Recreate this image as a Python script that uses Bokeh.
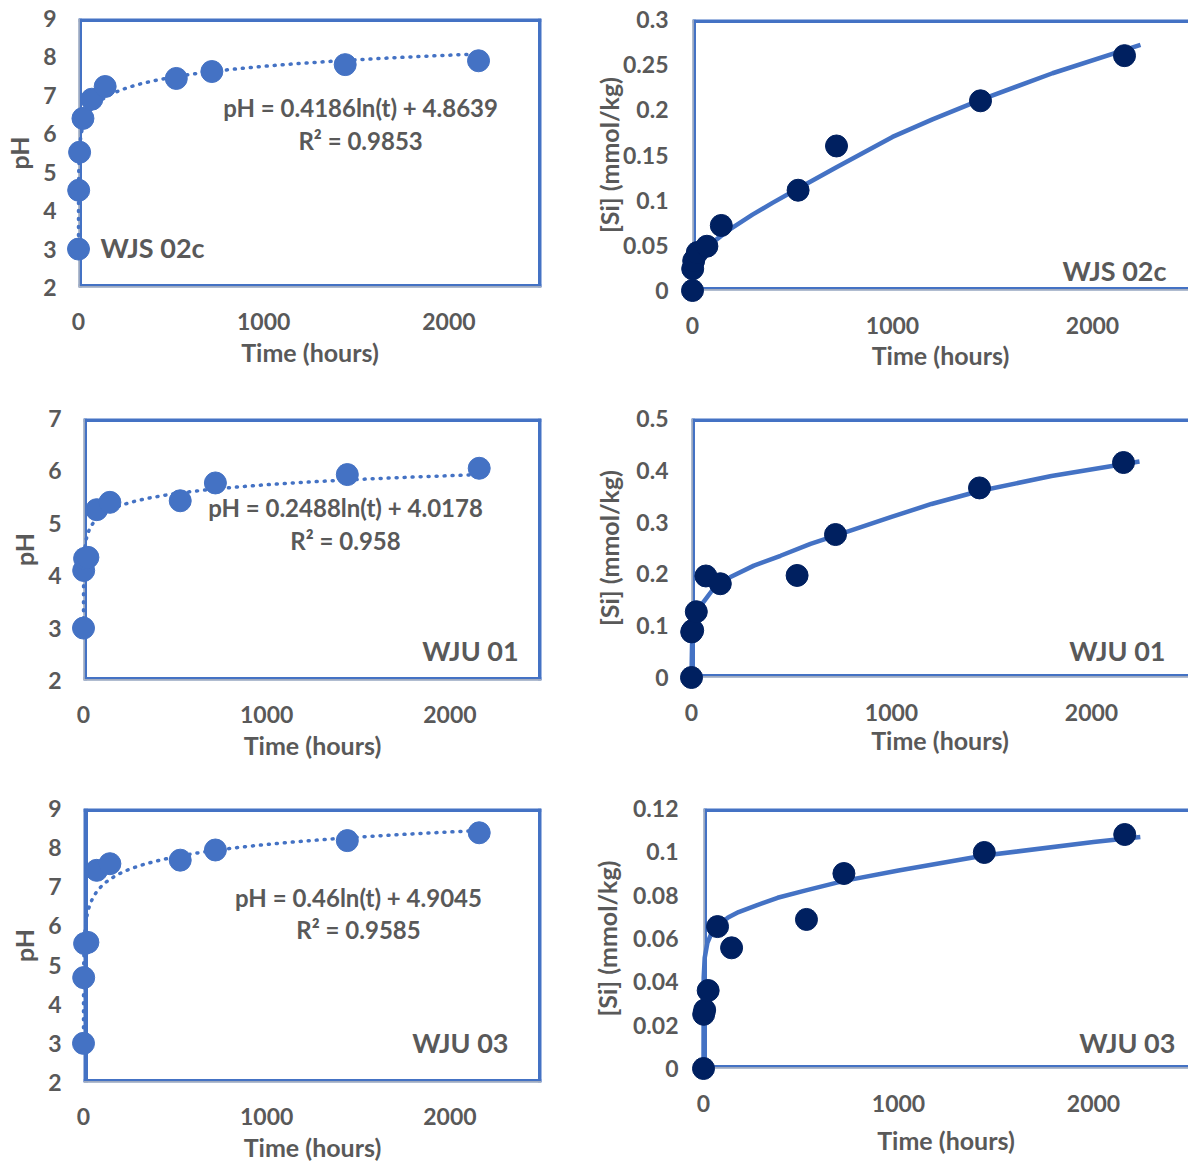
from bokeh.plotting import figure
from bokeh.layouts import column, row
from bokeh.models import Span, Label, FixedTicker, Range1d
from bokeh.embed import file_html
from bokeh.resources import INLINE
import numpy as np

# ---------------- data ----------------
hours = [0, 1, 6, 24, 72, 144, 528, 720, 1440, 2160]

ph_wjs02c = [3.0, 4.53, 5.52, 6.40, 6.90, 7.23, 7.44, 7.62, 7.80, 7.90]
ph_wju01 = [3.0, 4.10, 4.33, 4.35, 5.26, 5.40, 5.43, 5.77, 5.93, 6.05]
ph_wju03 = [3.0, 4.68, 5.55, 5.58, 7.42, 7.59, 7.68, 7.94, 8.18, 8.38]

si_wjs02c = [0, 0.024, 0.033, 0.042, 0.049, 0.072, 0.111, 0.160, 0.210, 0.260]
si_wju01 = [0, 0.088, 0.091, 0.127, 0.196, 0.181, 0.197, 0.276, 0.366, 0.415]
si_wju03 = [0, 0.025, 0.027, 0.036, 0.0655, 0.0557, 0.0688, 0.090, 0.0997, 0.108]

# solid fitted curves of the [Si] panels
si_curve_wjs02c_t = [0, 2, 10, 30, 60, 100, 175, 300, 400, 528, 720, 1000, 1200, 1440, 1800, 2240]
si_curve_wjs02c_v = [0, 0.010, 0.020, 0.031, 0.042, 0.053, 0.066, 0.084, 0.097, 0.113, 0.1365,
                     0.170, 0.1895, 0.211, 0.2405, 0.272]
si_curve_wju01_t = [0, 3, 20, 53, 103, 195, 312, 445, 595, 720, 1000, 1200, 1440, 1800, 2240]
si_curve_wju01_v = [0, 0.071, 0.116, 0.142, 0.168, 0.194, 0.216, 0.235, 0.258, 0.274, 0.310,
                    0.335, 0.360, 0.389, 0.417]
si_curve_wju03_t = [0, 1, 6, 20, 46, 70, 126, 180, 265, 380, 520, 720, 1000, 1440, 2000, 2240]
si_curve_wju03_v = [0, 0.042, 0.051, 0.058, 0.0635, 0.0655, 0.0697, 0.0722, 0.0751, 0.0788,
                    0.0821, 0.0866, 0.0914, 0.0983, 0.1045, 0.1068]

# logarithmic trendlines printed on the pH panels: pH = a ln(t) + b
trend_a = [0.4186, 0.2488, 0.46]
trend_b = [4.8639, 4.0178, 4.9045]
trend_t_range = [0.01, 2160]
eq_texts = ["pH = 0.4186ln(t) + 4.8639", "pH = 0.2488ln(t) + 4.0178", "pH = 0.46ln(t) + 4.9045"]
r2_texts = ["R\u00b2 = 0.9853", "R\u00b2 = 0.958", "R\u00b2 = 0.9585"]
sample_names = ["WJS 02c", "WJU 01", "WJU 03"]
x_title = "Time (hours)"

x_ticks = [0, 1000, 2000]
ph_ticks_a = [2, 3, 4, 5, 6, 7, 8, 9]
ph_ticks_b = [2, 3, 4, 5, 6, 7]
si_ticks_a = [0, 0.05, 0.1, 0.15, 0.2, 0.25, 0.3]
si_labels_a = ["0", "0.05", "0.1", "0.15", "0.2", "0.25", "0.3"]
si_ticks_b = [0, 0.1, 0.2, 0.3, 0.4, 0.5]
si_labels_b = ["0", "0.1", "0.2", "0.3", "0.4", "0.5"]
si_ticks_c = [0, 0.02, 0.04, 0.06, 0.08, 0.1, 0.12]
si_labels_c = ["0", "0.02", "0.04", "0.06", "0.08", "0.1", "0.12"]

# ---------------- styles ----------------
FONT = "Lato"
GRAY = "#595959"
BLUE = "#4472C4"
NAVY = "#002060"
AXGRAY = "#BFBFBF"
FRAME_W = 7


def make_fig(w, h, left, right, top, bottom, xr, yr, yticks, ylabels, ytitle,
             ystand, ytitle_stand, xstand, xtitle_stand):
    p = figure(width=w, height=h, x_range=Range1d(*xr), y_range=Range1d(*yr),
               output_backend="svg", toolbar_location=None,
               min_border_left=left, min_border_right=right,
               min_border_top=top, min_border_bottom=bottom)
    if "frame_align" in p.properties():
        p.frame_align = False
    p.grid.visible = False
    p.outline_line_color = None
    p.xaxis.ticker = FixedTicker(ticks=x_ticks)
    p.yaxis.ticker = FixedTicker(ticks=yticks)
    if ylabels is not None:
        p.yaxis.major_label_overrides = {t: l for t, l in zip(yticks, ylabels)}
    p.xaxis.axis_label = x_title
    p.yaxis.axis_label = ytitle
    for ax in (p.xaxis[0], p.yaxis[0]):
        ax.axis_line_color = None
        ax.major_tick_line_color = None
        ax.minor_tick_line_color = None
        ax.major_tick_out = 0
        ax.major_tick_in = 0
        ax.major_label_text_font = FONT
        ax.major_label_text_font_style = "bold"
        ax.major_label_text_color = GRAY
        ax.major_label_text_font_size = "23px"
        ax.axis_label_text_font = FONT
        ax.axis_label_text_font_style = "bold"
        ax.axis_label_text_color = GRAY
        ax.axis_label_text_font_size = "25px"
    p.yaxis.major_label_standoff = ystand
    p.yaxis.axis_label_standoff = ytitle_stand
    p.xaxis.major_label_standoff = xstand
    p.xaxis.axis_label_standoff = xtitle_stand
    return p


def add_frame(p, xr, yr, right=True, left_gray=True, left_w=FRAME_W):
    p.add_layout(Span(location=yr[1], dimension="width", line_color=BLUE, line_width=FRAME_W))
    p.add_layout(Span(location=yr[0], dimension="width", line_color=BLUE, line_width=FRAME_W))
    p.add_layout(Span(location=xr[0], dimension="height", line_color=BLUE, line_width=left_w))
    if right:
        p.add_layout(Span(location=xr[1], dimension="height", line_color=BLUE, line_width=FRAME_W))
    p.add_layout(Span(location=yr[0], dimension="width", line_color=AXGRAY, line_width=2.4))
    if left_gray:
        p.add_layout(Span(location=xr[0], dimension="height", line_color=AXGRAY, line_width=2.4))


def text(p, x, y, s, size, align):
    p.add_layout(Label(x=x, y=y, text=s, text_font=FONT, text_font_style="bold",
                       text_color=GRAY, text_font_size=size, text_align=align,
                       text_baseline="middle"))


def ph_panel(i, ph, w, h, bl, br, bt, bb, yr, yticks, eq_xy, r2_xy, name_xy, name_align,
             ytitle_stand, xstand, xtitle_stand, left_gray=True, left_w=FRAME_W):
    xr = (0, 2500)
    p = make_fig(w, h, bl, br, bt, bb, xr, yr, yticks, None, "pH", 22, ytitle_stand,
                 xstand, xtitle_stand)
    add_frame(p, xr, yr, right=True, left_gray=left_gray, left_w=left_w)
    tt = np.geomspace(trend_t_range[0], trend_t_range[1], 400)
    tv = trend_a[i] * np.log(tt) + trend_b[i]
    r = p.line(tt, tv, line_color=BLUE, line_width=3.5, line_dash="1 7", line_cap="round")
    r.level = "overlay"
    s = p.scatter(hours, ph, size=22, fill_color=BLUE, line_color=BLUE)
    s.level = "overlay"
    text(p, eq_xy[0], eq_xy[1], eq_texts[i], "24px", "center")
    text(p, r2_xy[0], r2_xy[1], r2_texts[i], "24px", "center")
    text(p, name_xy[0], name_xy[1], sample_names[i], "27px", name_align)
    return p


def si_panel(i, si, ct, cv, w, h, bl, bt, bb, xr, yr, yticks, ylabels, name_xy, ytitle_stand,
             ystand, xstand, xtitle_stand):
    p = make_fig(w, h, bl, 0, bt, bb, xr, yr, yticks, ylabels, "[Si] (mmol/kg)", ystand,
                 ytitle_stand, xstand, xtitle_stand)
    add_frame(p, xr, yr, right=False)
    r = p.line(ct, cv, line_color=BLUE, line_width=4.5)
    r.level = "overlay"
    s = p.scatter(hours, si, size=22, fill_color=NAVY, line_color=NAVY)
    s.level = "overlay"
    text(p, name_xy[0], name_xy[1], sample_names[i], "27px", "right")
    return p


p1 = ph_panel(0, ph_wjs02c, 588, 393, 78, 47, 18, 106, (2, 9), ph_ticks_a,
              (1523, 6.68), (1523, 5.83), (119, 3.04), "left", 6, 25, 4)
p2 = si_panel(0, si_wjs02c, si_curve_wjs02c_t, si_curve_wjs02c_v, 600, 393, 104, 19, 103,
              (0, 2480), (0, 0.3), si_ticks_a, si_labels_a, (2370, 0.022), -4, 24, 26, 3)
p3 = ph_panel(1, ph_wju01, 588, 390, 83, 47, 25, 103, (2, 7), ph_ticks_b,
              (1430, 5.30), (1430, 4.67), (2375, 2.57), "right", 6, 25, 4)
p4 = si_panel(1, si_wju01, si_curve_wju01_t, si_curve_wju01_v, 600, 390, 103, 25, 106,
              (0, 2485), (0, 0.5), si_ticks_b, si_labels_b, (2370, 0.052), 9, 23, 26, 1)
p5 = ph_panel(2, ph_wju03, 588, 381, 83, 47, 25, 82, (2, 9), ph_ticks_a,
              (1501, 6.72), (1501, 5.91), (2320, 3.02), "right", 6, 25, 4,
              left_gray=False, left_w=9)
p6 = si_panel(2, si_wju03, si_curve_wju03_t, si_curve_wju03_v, 600, 381, 115, 25, 96,
              (0, 2487), (0, 0.12), si_ticks_c, si_labels_c, (2420, 0.012), 8, 25, 26, 10)

layout = column(row(p1, p2), row(p3, p4), row(p5, p6))
open("out.html", "w").write(file_html(layout, INLINE))
